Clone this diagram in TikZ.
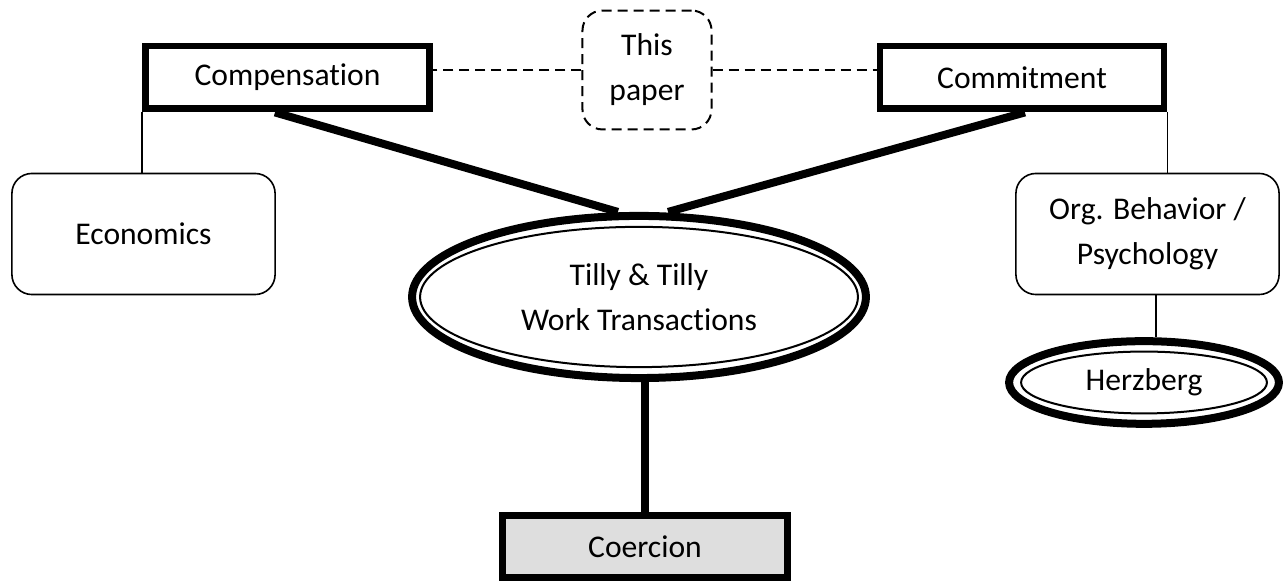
\documentclass[tikz,border=0pt]{standalone}
\usepackage{fontspec}
\setmainfont{Carlito}[Ligatures=NoCommon]
\usetikzlibrary{shapes, backgrounds}
\definecolor{coergray}{RGB}{222,222,222}
\tikzstyle{every node}=[font=\fontsize{11.85pt}{16.9pt}\selectfont, align=center, inner sep=0pt]
\tikzstyle{topic}=[draw, rectangle, line width=2.6pt, minimum width=106.5pt, minimum height=23.6pt]
\tikzstyle{field}=[draw, rectangle, rounded corners=7.5pt, line width=0.6pt, minimum width=98.7pt, minimum height=45.4pt]
\tikzstyle{theory}=[draw, ellipse, line width=3pt]
\tikzstyle{paperbox}=[draw, rectangle, rounded corners=7.5pt, line width=0.75pt, dash pattern=on 3.75pt off 2.25pt, minimum width=48.4pt, minimum height=44.6pt]
\tikzstyle{strong}=[line width=3pt]
\tikzstyle{weak}=[line width=0.6pt]
\tikzstyle{loose}=[line width=0.75pt, dash pattern=on 3.75pt off 2.25pt]

\begin{document}
\begin{tikzpicture}[x=0.375pt, y=-0.375pt]
    \useasboundingbox (0,0) rectangle (1286,582);
    \node       [topic]     (Comp)   at (287.5,77.5) {Compensation};
    \node       [topic]     (Commit) at (1022,77.5)  {Commitment};
    \node       [paperbox]  (Paper)  at (647,70)     {This\\paper};
    \node       [field]     (Econ)   at (143.5,234)  {Economics};
    \node       [field]     (Org)    at (1147.5,234) {Org. Behavior /\\Psychology};
    \node       [theory, minimum width=170.2pt, minimum height=60.8pt] (Tilly) at (639,297) {Tilly \& Tilly\\Work Transactions};
    \node       [theory, minimum width=101.2pt, minimum height=31pt] (Herz)  at (1144,382.5) {Herzberg};
    \node       [topic, fill=coergray, line width=2.4pt, minimum width=106.9pt, minimum height=23.3pt] (Coer) at (645,546.5) {Coercion};
    \draw[line width=0.75pt] (Tilly.center) ellipse [x radius=82.1pt, y radius=26.3pt];
    \draw[line width=0.75pt] (Herz.center) ellipse [x radius=46.1pt, y radius=11.6pt];

    \draw[loose] (Paper.west) -- (Paper.west -| Comp.east);
    \draw[loose] (Paper.east) -- (Paper.east -| Commit.west);
    \draw[weak] (Comp.south west) -- (Comp.south west |- Econ.north);
    \draw[weak] (Commit.south east) -- (Commit.south east |- Org.north);
    \draw[weak] ([xshift=3.2pt]Org.south) -- ([xshift=3.2pt]Org.south |- Herz.north);
    \draw[strong] ([xshift=-4.7pt]Comp.south) -- ([xshift=-7.9pt]Tilly.north);
    \draw[strong] ([xshift=1.1pt]Commit.south) -- ([xshift=10.9pt]Tilly.north);
    \draw[strong] (Tilly.south -| Coer.north) -- (Coer.north);
\end{tikzpicture}
\end{document}
